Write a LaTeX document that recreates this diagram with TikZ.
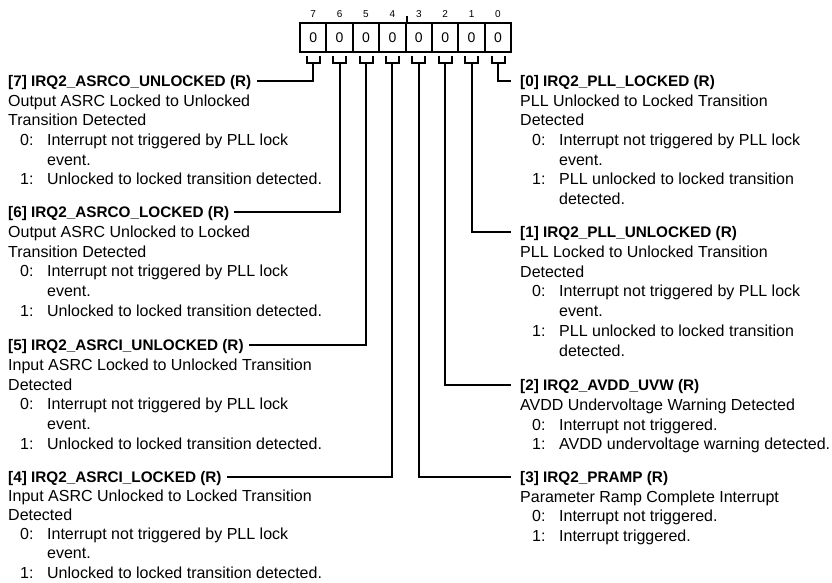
\documentclass[tikz,border=0pt]{standalone}
\usepackage{fontspec}
\setmainfont{Liberation Sans}
\newcommand\bitm[2]{\makebox[39pt][l]{\hspace*{12pt}#1}#2}
\newcommand\bcnt[1]{\hspace*{39pt}#1}
\tikzset{
  cellbox/.style={draw, line width=2pt, minimum width=26.4pt, minimum height=29pt, inner sep=0pt, font=\fontsize{14pt}{16pt}\selectfont},
  bitnum/.style={inner sep=0pt, font=\fontsize{10pt}{12pt}\selectfont},
  regtitle/.style={inner sep=0pt, text height=11pt, text depth=0pt, font=\fontsize{15.3pt}{18pt}\selectfont\bfseries},
  regbody/.style={inner sep=0pt, align=left, anchor=base west, font=\fontsize{16pt}{19.7pt}\selectfont},
  tightbody/.style={regbody, font=\fontsize{16pt}{19.3pt}\selectfont},
  wire/.style={line width=2pt},
}
% body node base = baseline of its last line: shift = 20 + (lines-1)*pitch
\begin{document}
\begin{tikzpicture}[x=1pt,y=-1pt]
\useasboundingbox (0,0) rectangle (832,582);
% register cells
\foreach \b in {7,...,0} {
  \node[cellbox] (c\b) at ({300+26.4*(7-\b)+13.2},37.5) {0};
  \node[bitnum] (n\b) at ({300+26.4*(7-\b)+13.2},14) {\b};
  \draw[wire] ([xshift=-6.5pt,yshift=-3pt]c\b.south) -- ++(0,7) -- ++(13,0) -- ++(0,-7);
  \coordinate (u\b) at ([yshift=-10pt]c\b.south);
}
\draw[wire] (c4.north east) -- ++(0,-6);

% left titles
\node[regtitle, anchor=west] (t7) at (8,80.5) {[7] IRQ2\_ASRCO\_UNLOCKED (R)};
\node[regbody] (b7) at ([yshift=-98.8pt]t7.base west) {Output ASRC Locked to Unlocked\\Transition Detected\\\bitm{0:}{Interrupt not triggered by PLL lock}\\\bcnt{event.}\\\bitm{1:}{Unlocked to locked transition detected.}};

\node[regtitle, anchor=west] (t6) at (8,212) {[6] IRQ2\_ASRCO\_LOCKED (R)};
\node[regbody] (b6) at ([yshift=-98.8pt]t6.base west) {Output ASRC Unlocked to Locked\\Transition Detected\\\bitm{0:}{Interrupt not triggered by PLL lock}\\\bcnt{event.}\\\bitm{1:}{Unlocked to locked transition detected.}};

\node[regtitle, anchor=west] (t5) at (8,345) {[5] IRQ2\_ASRCI\_UNLOCKED (R)};
\node[regbody] (b5) at ([yshift=-98.8pt]t5.base west) {Input ASRC Locked to Unlocked Transition\\Detected\\\bitm{0:}{Interrupt not triggered by PLL lock}\\\bcnt{event.}\\\bitm{1:}{Unlocked to locked transition detected.}};

\node[regtitle, anchor=west] (t4) at (8,476.5) {[4] IRQ2\_ASRCI\_LOCKED (R)};
\node[tightbody] (b4) at ([yshift=-96.2pt]t4.base west) {Input ASRC Unlocked to Locked Transition\\Detected\\\bitm{0:}{Interrupt not triggered by PLL lock}\\\bcnt{event.}\\\bitm{1:}{Unlocked to locked transition detected.}};

% right titles
\node[regtitle, anchor=west] (t0) at (520,80.5) {[0] IRQ2\_PLL\_LOCKED (R)};
\node[regbody] (b0) at ([yshift=-118.5pt]t0.base west) {PLL Unlocked to Locked Transition\\Detected\\\bitm{0:}{Interrupt not triggered by PLL lock}\\\bcnt{event.}\\\bitm{1:}{PLL unlocked to locked transition}\\\bcnt{detected.}};

\node[regtitle, anchor=west] (t1) at (520,232) {[1] IRQ2\_PLL\_UNLOCKED (R)};
\node[regbody] (b1) at ([yshift=-118.5pt]t1.base west) {PLL Locked to Unlocked Transition\\Detected\\\bitm{0:}{Interrupt not triggered by PLL lock}\\\bcnt{event.}\\\bitm{1:}{PLL unlocked to locked transition}\\\bcnt{detected.}};

\node[regtitle, anchor=west] (t2) at (520,385) {[2] IRQ2\_AVDD\_UVW (R)};
\node[regbody] (b2) at ([yshift=-59.4pt]t2.base west) {AVDD Undervoltage Warning Detected\\\bitm{0:}{Interrupt not triggered.}\\\bitm{1:}{AVDD undervoltage warning detected.}};

\node[regtitle, anchor=west] (t3) at (520,476.5) {[3] IRQ2\_PRAMP (R)};
\node[regbody] (b3) at ([yshift=-59.4pt]t3.base west) {Parameter Ramp Complete Interrupt\\\bitm{0:}{Interrupt not triggered.}\\\bitm{1:}{Interrupt triggered.}};

% connectors
\foreach \b in {7,6,5,4} {
  \draw[wire] (u\b) |- ([xshift=5pt]t\b.east);
}
\foreach \b in {3,2,1,0} {
  \draw[wire] (u\b) |- ([xshift=-9pt]t\b.west);
}
\end{tikzpicture}
\end{document}
